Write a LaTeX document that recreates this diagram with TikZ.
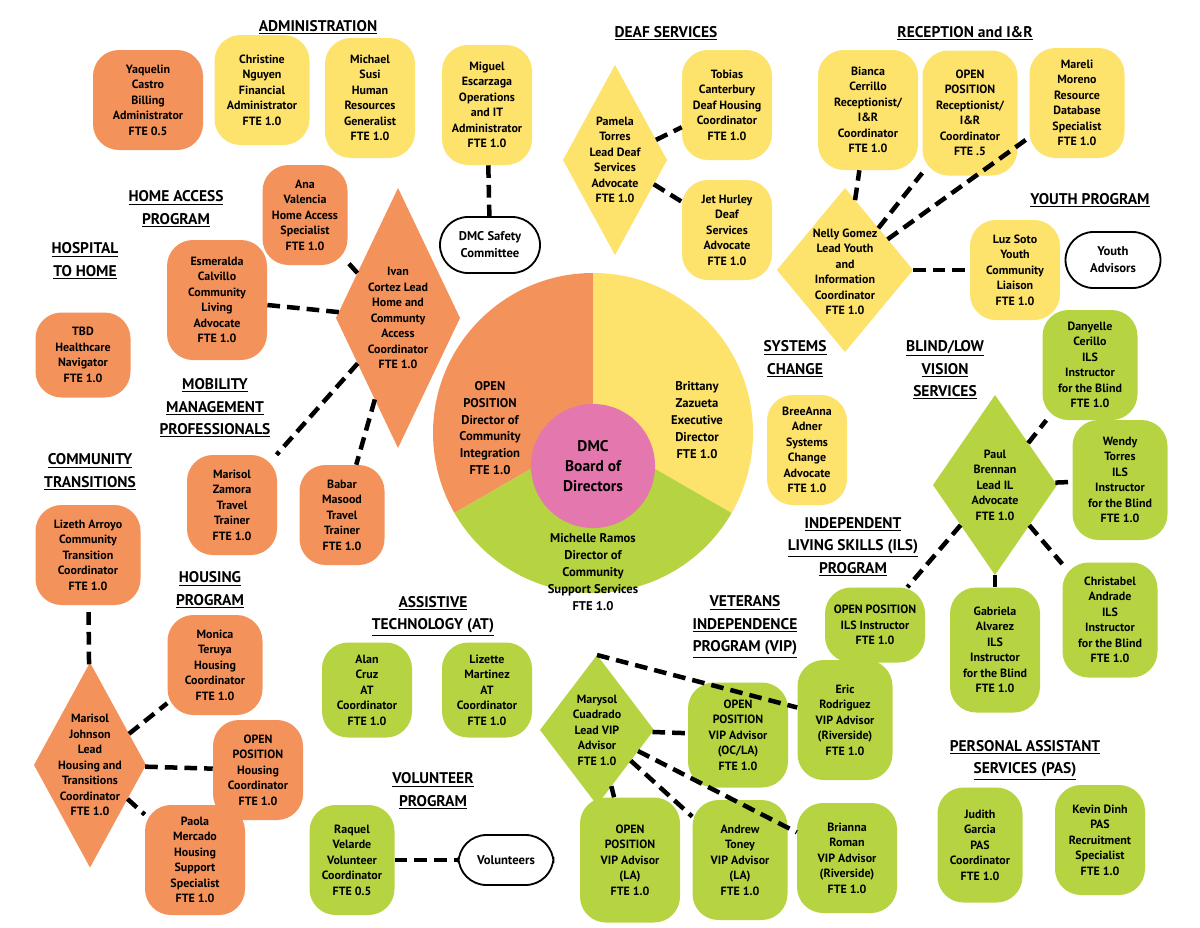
\documentclass[tikz,border=0pt]{standalone}
\usepackage{fontspec}
\setmainfont{PT Sans}
\usetikzlibrary{shapes.geometric}
\definecolor{orgO}{HTML}{F4925B}
\definecolor{orgY}{HTML}{FDE26C}
\definecolor{orgG}{HTML}{B6D442}
\definecolor{orgP}{HTML}{E477AE}
\newcommand{\ul}[1]{\underline{#1}}
\tikzset{
    box/.style 2 args={rounded corners=0.65cm, align=center, inner sep=1pt,
        minimum width=#1*0.025cm, minimum height=#2*0.025cm,
        font=\fontsize{8.5}{11}\selectfont\bfseries},
    dia/.style 2 args={diamond, inner sep=0pt, outer sep=0pt, minimum width=#1*0.025cm, minimum height=#2*0.025cm},
    dlabel/.style={align=center, font=\fontsize{8.5}{11}\selectfont\bfseries},
    head/.style={align=center, font=\fontsize{11}{16}\selectfont\bfseries},
    pie/.style={align=center, font=\fontsize{9}{12}\selectfont\bfseries},
    white box/.style={draw, line width=1.3pt, fill=white, rounded corners=0.7cm, align=center,
        minimum width=#1*0.025cm, minimum height=1.4cm, font=\fontsize{9}{12}\selectfont\bfseries},
    link/.style={line width=3.2pt, dash pattern=on 9pt off 5pt},
}
\begin{document}
\begin{tikzpicture}[x=0.025cm,y=-0.025cm]
    \useasboundingbox[fill=white] (0,0) rectangle (1200,927);

    % headings
    \node[head] (hAdmin) at (318,27) {\ul{ADMINISTRATION}};
    \node[head] (hDeaf) at (666,33) {\ul{DEAF SERVICES}};
    \node[head] (hRecep) at (965,33) {\ul{RECEPTION and I\&R}};
    \node[head] (hHome) at (176,209) {\ul{HOME ACCESS}\\\ul{PROGRAM}};
    \node[head] (hHosp) at (85,261) {\ul{HOSPITAL}\\\ul{TO HOME}};
    \node[head] (hYouth) at (1090,200) {\ul{YOUTH PROGRAM}};
    \node[head] (hSys) at (795,359) {\ul{SYSTEMS}\\\ul{CHANGE}};
    \node[head] (hBlind) at (945,370) {\ul{BLIND/LOW}\\\ul{VISION}\\\ul{SERVICES}};
    \node[head] (hMob) at (215,408) {\ul{MOBILITY}\\\ul{MANAGEMENT}\\\ul{PROFESSIONALS}};
    \node[head] (hComm) at (90,472) {\ul{COMMUNITY}\\\ul{TRANSITIONS}};
    \node[head] (hIls) at (853,547) {\ul{INDEPENDENT}\\\ul{LIVING SKILLS (ILS)}\\\ul{PROGRAM}};
    \node[head] (hHous) at (210,590) {\ul{HOUSING}\\\ul{PROGRAM}};
    \node[head] (hAt) at (433,616) {\ul{ASSISTIVE}\\\ul{TECHNOLOGY (AT)}};
    \node[head] (hVip) at (745,627) {\ul{VETERANS}\\\ul{INDEPENDENCE}\\\ul{PROGRAM (VIP)}};
    \node[head] (hPas) at (1025,760) {\ul{PERSONAL ASSISTANT}\\\ul{SERVICES (PAS)}};
    \node[head] (hVol) at (433,791) {\ul{VOLUNTEER}\\\ul{PROGRAM}};

    % centre
    \coordinate (ctr) at (593,433);
    \fill[orgO] (ctr) -- ++(-90:160) arc(-90:-210:160) -- cycle;
    \fill[orgY] (ctr) -- ++(-90:160) arc(-90:30:160) -- cycle;
    \fill[orgG] (ctr) -- ++(30:160) arc(30:150:160) -- cycle;
    \node[circle, fill=orgP, minimum size=3.1cm, pie, font=\fontsize{11}{14}\selectfont\bfseries] (board) at (593,466) {DMC\\Board of\\Directors};
    \node[pie] (dirInt) at (490,428) {OPEN\\POSITION\\Director of\\Community\\Integration\\FTE 1.0};
    \node[pie] (dirExe) at (697,420) {Brittany\\Zazueta\\Executive\\Director\\FTE 1.0};
    \node[pie] (dirSup) at (593,572) {Michelle Ramos\\Director of\\Community\\Support Services\\FTE 1.0};

    % orange
    \node[box={110}{100}, fill=orgO] (yaquelin) at (148,100) {Yaquelin\\Castro\\Billing\\Administrator\\FTE 0.5};
    \node[box={85}{100}, fill=orgO] (ana) at (305,215) {Ana\\Valencia\\Home Access\\Specialist\\FTE 1.0};
    \node[box={100}{120}, fill=orgO] (esmeralda) at (217,300) {Esmeralda\\Calvillo\\Community\\Living\\Advocate\\FTE 1.0};
    \node[box={95}{85}, fill=orgO] (tbd) at (83,355) {TBD\\Healthcare\\Navigator\\FTE 1.0};
    \node[box={90}{100}, fill=orgO] (marisolZ) at (232,505) {Marisol\\Zamora\\Travel\\Trainer\\FTE 1.0};
    \node[box={85}{100}, fill=orgO] (babar) at (342,515) {Babar\\Masood\\Travel\\Trainer\\FTE 1.0};
    \node[box={105}{100}, fill=orgO] (lizeth) at (88,555) {Lizeth Arroyo\\Community\\Transition\\Coordinator\\FTE 1.0};
    \node[box={95}{100}, fill=orgO] (monica) at (215,665) {Monica\\Teruya\\Housing\\Coordinator\\FTE 1.0};
    \node[box={90}{100}, fill=orgO] (openHous) at (258,770) {OPEN\\POSITION\\Housing\\Coordinator\\FTE 1.0};
    \node[box={100}{110}, fill=orgO] (paola) at (195,860) {Paola\\Mercado\\Housing\\Support\\Specialist\\FTE 1.0};
    \node[dia={124}{260}, fill=orgO] (ivan) at (398,318) {};
    \node[dlabel] (ivanL) at (398,318) {Ivan\\Cortez Lead\\Home and\\Communty\\Access\\Coordinator\\FTE 1.0};
    \node[dia={112}{205}, fill=orgO] (marisolJ) at (90,765) {};
    \node[dlabel] (marisolJL) at (90,765) {Marisol\\Johnson\\Lead\\Housing and\\Transitions\\Coordinator\\FTE 1.0};

    % yellow
    \node[box={95}{110}, fill=orgY] (christine) at (262,90) {Christine\\Nguyen\\Financial\\Administrator\\FTE 1.0};
    \node[box={90}{120}, fill=orgY] (michael) at (370,98) {Michael\\Susi\\Human\\Resources\\Generalist\\FTE 1.0};
    \node[box={90}{120}, fill=orgY] (miguel) at (487,105) {Miguel\\Escarzaga\\Operations\\and IT\\Administrator\\FTE 1.0};
    \node[box={90}{110}, fill=orgY] (tobias) at (727,105) {Tobias\\Canterbury\\Deaf Housing\\Coordinator\\FTE 1.0};
    \node[box={90}{100}, fill=orgY] (jet) at (727,230) {Jet Hurley\\Deaf\\Services\\Advocate\\FTE 1.0};
    \node[box={100}{120}, fill=orgY] (bianca) at (868,110) {Bianca\\Cerrillo\\Receptionist/\\I\&R\\Coordinator\\FTE 1.0};
    \node[box={95}{125}, fill=orgY] (openRec) at (970,113) {OPEN\\POSITION\\Receptionist/\\I\&R\\Coordinator\\FTE .5};
    \node[box={95}{110}, fill=orgY] (mareli) at (1077,103) {Mareli\\Moreno\\Resource\\Database\\Specialist\\FTE 1.0};
    \node[box={90}{100}, fill=orgY] (luz) at (1015,270) {Luz Soto\\Youth\\Community\\Liaison\\FTE 1.0};
    \node[box={80}{110}, fill=orgY] (breeanna) at (807,450) {BreeAnna\\Adner\\Systems\\Change\\Advocate\\FTE 1.0};
    \node[dia={104}{190}, fill=orgY] (pamela) at (615,160) {};
    \node[dlabel] (pamelaL) at (615,160) {Pamela\\Torres\\Lead Deaf\\Services\\Advocate\\FTE 1.0};
    \node[dia={136}{164}, fill=orgY] (nelly) at (845,270) {};
    \node[dlabel] (nellyL) at (845,272) {Nelly Gomez\\Lead Youth\\and\\Information\\Coordinator\\FTE 1.0};

    % green
    \node[box={95}{110}, fill=orgG] (danyelle) at (1090,365) {Danyelle\\Cerillo\\ILS\\Instructor\\for the Blind\\FTE 1.0};
    \node[box={95}{120}, fill=orgG] (wendy) at (1120,480) {Wendy\\Torres\\ILS\\Instructor\\for the Blind\\FTE 1.0};
    \node[box={100}{75}, fill=orgG] (openIls) at (875,625) {OPEN POSITION\\ILS Instructor\\FTE 1.0};
    \node[box={90}{125}, fill=orgG] (gabriela) at (995,650) {Gabriela\\Alvarez\\ILS\\Instructor\\for the Blind\\FTE 1.0};
    \node[box={95}{115}, fill=orgG] (christabel) at (1110,620) {Christabel\\Andrade\\ILS\\Instructor\\for the Blind\\FTE 1.0};
    \node[box={90}{95}, fill=orgG] (alan) at (367,690) {Alan\\Cruz\\AT\\Coordinator\\FTE 1.0};
    \node[box={90}{95}, fill=orgG] (lizette) at (487,690) {Lizette\\Martinez\\AT\\Coordinator\\FTE 1.0};
    \node[box={100}{105}, fill=orgG] (openOc) at (738,735) {OPEN\\POSITION\\VIP Advisor\\(OC/LA)\\FTE 1.0};
    \node[box={95}{120}, fill=orgG] (eric) at (845,720) {Eric\\Rodriguez\\VIP Advisor\\(Riverside)\\FTE 1.0};
    \node[box={100}{125}, fill=orgG] (openLa) at (630,860) {OPEN\\POSITION\\VIP Advisor\\(LA)\\FTE 1.0};
    \node[box={95}{120}, fill=orgG] (andrew) at (740,860) {Andrew\\Toney\\VIP Advisor\\(LA)\\FTE 1.0};
    \node[box={100}{110}, fill=orgG] (brianna) at (847,858) {Brianna\\Roman\\VIP Advisor\\(Riverside)\\FTE 1.0};
    \node[box={85}{110}, fill=orgG] (raquel) at (352,860) {Raquel\\Velarde\\Volunteer\\Coordinator\\FTE 0.5};
    \node[box={85}{115}, fill=orgG] (judith) at (980,845) {Judith\\Garcia\\PAS\\Coordinator\\FTE 1.0};
    \node[box={90}{110}, fill=orgG] (kevin) at (1100,840) {Kevin Dinh\\PAS\\Recruitment\\Specialist\\FTE 1.0};
    \node[dia={124}{180}, fill=orgG] (paul) at (995,485) {};
    \node[dlabel] (paulL) at (995,485) {Paul\\Brennan\\Lead IL\\Advocate\\FTE 1.0};
    \node[dia={114}{150}, fill=orgG] (marysol) at (597,730) {};
    \node[dlabel] (marysolL) at (597,730) {Marysol\\Cuadrado\\Lead VIP\\Advisor\\FTE 1.0};

    % white
    \node[white box=100] (safety) at (490,245) {DMC Safety\\Committee};
    \node[white box=95] (advisors) at (1113,260) {Youth\\Advisors};
    \node[white box=95, minimum height=1.25cm] (volunteers) at (506,860) {Volunteers};

    % links
    \draw[link] (miguel) -- (safety);
    \draw[link] (pamela) -- (tobias);
    \draw[link] (pamela) -- (jet);
    \draw[link] (nelly) -- (bianca);
    \draw[link] (nelly) -- (openRec);
    \draw[link] (nelly) -- (mareli);
    \draw[link] (nelly) -- (luz);
    \draw[link] (ivan) -- (ana);
    \draw[link] (ivan) -- (esmeralda);
    \draw[link] (ivan) -- (marisolZ);
    \draw[link] (ivan) -- (babar);
    \draw[link] (marisolJ) -- (lizeth);
    \draw[link] (marisolJ) -- (monica);
    \draw[link] (marisolJ) -- (openHous);
    \draw[link] (marisolJ) -- (paola);
    \draw[link] (paul) -- (danyelle);
    \draw[link] (paul) -- (wendy);
    \draw[link] (paul) -- (openIls);
    \draw[link] (paul) -- (gabriela);
    \draw[link] (paul) -- (christabel);
    \draw[link] (marysol.north) -- (eric);
    \draw[link] (marysol) -- (openOc);
    \draw[link] (marysol) -- (openLa);
    \draw[link] (marysol) -- (andrew);
    \draw[link] (marysol) -- (brianna);
    \draw[link] (raquel) -- (volunteers);
\end{tikzpicture}
\end{document}
